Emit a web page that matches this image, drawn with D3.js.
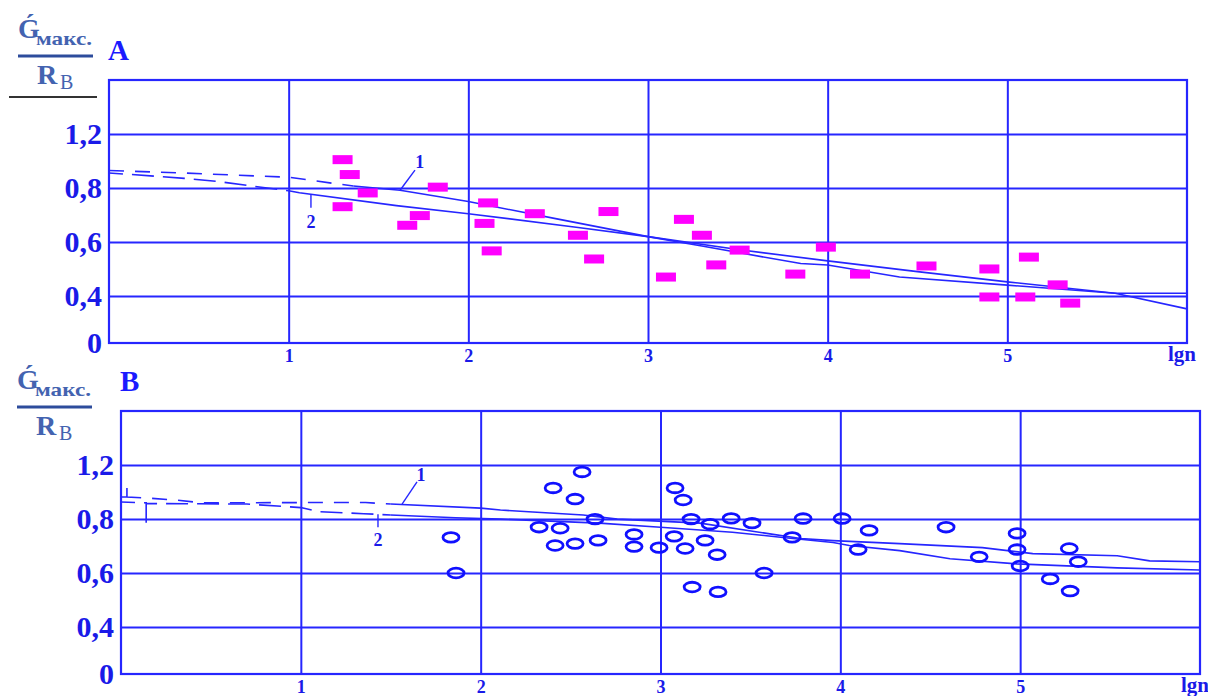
<!DOCTYPE html>
<html>
<head>
<meta charset="utf-8">
<script src="https://cdn.jsdelivr.net/npm/d3@7"></script>
<style>
  body { margin: 0; background: #fff; }
  text { font-family: "Liberation Serif", "DejaVu Serif", serif; }
</style>
</head>
<body>
<svg id="chart" width="1208" height="696"></svg>
<script>
// axis ticks
const xTicks = [1, 2, 3, 4, 5];
const yTicks = [0, 0.4, 0.6, 0.8, 1.2];
const yTickLabels = ["0", "0,4", "0,6", "0,8", "1,2"];
const yStops = [0, 0.4, 0.6, 0.8, 1.2, 1.6];

// panel A : measured points (lgn, G/R)
const pointsA = [
  [1.30, 1.01], [1.34, 0.90], [1.44, 0.782], [1.30, 0.731], [1.66, 0.662],
  [1.73, 0.698], [1.83, 0.807], [2.11, 0.745], [2.09, 0.669], [2.13, 0.567],
  [2.37, 0.705], [2.61, 0.625], [2.70, 0.537], [2.78, 0.713], [3.10, 0.470],
  [3.20, 0.684], [3.30, 0.625], [3.38, 0.515], [3.51, 0.570], [3.82, 0.481],
  [3.99, 0.581], [4.18, 0.481], [4.55, 0.511], [4.90, 0.500], [4.90, 0.391],
  [5.12, 0.544], [5.10, 0.391], [5.28, 0.441], [5.35, 0.339]
];
// panel A : curves 1 and 2
const curveA1 = [
  [0, 0.93], [0.4, 0.912], [1.0, 0.88], [1.36, 0.815], [1.62, 0.792],
  [2.0, 0.75], [2.5, 0.685], [3.0, 0.62], [3.5, 0.572], [4.0, 0.53],
  [4.5, 0.49], [5.0, 0.452], [5.6, 0.41], [6.0, 0.29]
];
const curveA2 = [
  [0, 0.912], [0.42, 0.872], [0.6, 0.85], [0.77, 0.82], [1.0, 0.79],
  [1.06, 0.783], [1.6, 0.735], [2.0, 0.705], [2.6, 0.655], [3.0, 0.62],
  [3.3, 0.585], [3.85, 0.52], [4.0, 0.515], [4.4, 0.47], [5.0, 0.44],
  [5.6, 0.41], [6.0, 0.41]
];
const dashEndA = [1.36, 1.0];

// panel B : measured points
const pointsB = [
  [1.835, 0.732], [1.863, 0.600], [2.564, 1.148], [2.403, 1.030], [2.525, 0.948],
  [2.636, 0.800], [2.325, 0.770], [2.442, 0.766], [2.414, 0.702], [2.525, 0.709],
  [2.653, 0.721], [2.853, 0.743], [2.853, 0.698], [2.992, 0.694], [3.081, 1.030],
  [3.126, 0.941], [3.170, 0.800], [3.076, 0.736], [3.137, 0.691], [3.276, 0.781],
  [3.248, 0.721], [3.315, 0.668], [3.393, 0.805], [3.509, 0.785], [3.176, 0.548],
  [3.320, 0.530], [3.576, 0.600], [3.732, 0.732], [3.793, 0.804], [4.010, 0.804],
  [4.160, 0.758], [4.099, 0.687], [4.588, 0.770], [4.772, 0.660], [4.983, 0.747],
  [4.983, 0.687], [5.000, 0.626], [5.167, 0.578], [5.273, 0.691], [5.323, 0.642],
  [5.278, 0.533]
];
// panel B : curves 1 and 2
const curveB1 = [
  [0, 0.963], [0.033, 0.963], [0.033, 1.04], [0.033, 0.963], [0.15, 0.955],
  [0.3, 0.941], [0.45, 0.92], [1.0, 0.922], [1.36, 0.922], [1.5, 0.911],
  [2.0, 0.881], [2.11, 0.867], [2.29, 0.852], [2.57, 0.83], [2.76, 0.80],
  [3.22, 0.785], [3.59, 0.747], [3.78, 0.728], [3.96, 0.72], [4.33, 0.709],
  [4.79, 0.694], [5.07, 0.672], [5.54, 0.664], [5.72, 0.645], [6.0, 0.642]
];
const curveB2 = [
  [0, 0.926], [0.14, 0.92], [0.14, 0.785], [0.14, 0.915], [0.7, 0.911],
  [1.0, 0.885], [1.1, 0.855], [1.35, 0.84], [1.5, 0.83], [1.86, 0.81],
  [2.11, 0.80], [2.66, 0.785], [3.0, 0.77], [3.4, 0.751], [3.68, 0.732],
  [3.96, 0.713], [4.05, 0.702], [4.33, 0.683], [4.61, 0.653], [4.98, 0.634],
  [5.54, 0.619], [6.0, 0.611]
];
const dashEndB = [1.5, 1.5];

// curve labels: text point and leader (lgn, G/R)
const notesA = [
  { t: "1", tx: 1.73, ty: 0.995, x1: 1.62, y1: 0.792, x2: 1.703, y2: 0.933 },
  { t: "2", tx: 1.124, ty: 0.676, x1: 1.124, y1: 0.778, x2: 1.124, y2: 0.727 }
];
const notesB = [
  { t: "1", tx: 1.668, ty: 1.126, x1: 1.563, y1: 0.911, x2: 1.646, y2: 1.074 },
  { t: "2", tx: 1.429, ty: 0.721, x1: 1.429, y1: 0.835, x2: 1.429, y2: 0.770 }
];

const blue = "#2626ff";
const textBlue = "#1a1ae8";
const titleBlue = "#4363b0";

let svg = d3.select("#chart");
svg.append("rect").attr("width", 1208).attr("height", 696).attr("fill", "#fff");

function drawPanel(p) {
  let g = svg.append("g").attr("transform", `translate(${p.left}, ${p.top})`);

  let xScale = d3.scaleLinear().domain([0, 6]).range([0, p.width]);
  // the printed grid is not evenly spaced, so a piecewise scale
  let yScale = d3.scaleLinear()
    .domain(yStops)
    .range([0, 0.179, 0.384, 0.589, 0.795, 1].map(f => p.height - f * p.height));

  // grid
  g.append("g")
    .call(d3.axisLeft(yScale).tickValues(yTicks.filter(v => v > 0)).tickSize(-p.width).tickFormat(""))
    .call(a => a.select(".domain").remove())
    .selectAll("line").attr("stroke", blue).attr("stroke-width", 2);
  g.append("g")
    .attr("transform", `translate(0, ${p.height})`)
    .call(d3.axisBottom(xScale).tickValues(xTicks).tickSize(-p.height).tickFormat(""))
    .call(a => a.select(".domain").remove())
    .selectAll("line").attr("stroke", blue).attr("stroke-width", 2);

  g.append("rect")
    .attr("width", p.width).attr("height", p.height)
    .attr("fill", "none").attr("stroke", blue).attr("stroke-width", 2.2);

  // y labels
  let yAx = g.append("g")
    .call(d3.axisLeft(yScale).tickValues(yTicks).tickSize(0).tickPadding(7)
      .tickFormat((d, i) => yTickLabels[i]));
  yAx.select(".domain").remove();
  yAx.selectAll("text")
    .attr("fill", textBlue).style("font-size", "30px").style("font-weight", "bold")
    .style("font-family", "'Liberation Serif', serif");

  // x labels
  let xAx = g.append("g")
    .attr("transform", `translate(0, ${p.height})`)
    .call(d3.axisBottom(xScale).tickValues(xTicks).tickSize(0).tickPadding(6)
      .tickFormat(d3.format("d")));
  xAx.select(".domain").remove();
  xAx.selectAll("text")
    .attr("fill", textBlue).style("font-size", "18px").style("font-weight", "bold")
    .style("font-family", "'Liberation Serif', serif");

  g.append("text")
    .attr("x", xScale(6) - 5).attr("y", p.height + 18)
    .attr("text-anchor", "middle")
    .attr("fill", textBlue).style("font-size", "21px").style("font-weight", "bold")
    .text("lgn");

  // curves
  let line = d3.line().x(d => xScale(d[0])).y(d => yScale(d[1]));
  p.curves.forEach(function (c, i) {
    let split = p.dashEnd[i];
    g.append("path")
      .attr("d", line(c.filter(d => d[0] <= split)))
      .attr("fill", "none").attr("stroke", blue).attr("stroke-width", 1.6)
      .attr("stroke-dasharray", i ? "22 9" : "15 11")
      .attr("stroke-dashoffset", i ? 8 : 0);
    g.append("path")
      .attr("d", line(c.filter(d => d[0] >= split)))
      .attr("fill", "none").attr("stroke", blue).attr("stroke-width", 1.6);
  });

  // curve labels
  p.notes.forEach(function (n) {
    g.append("line")
      .attr("x1", xScale(n.x1)).attr("y1", yScale(n.y1))
      .attr("x2", xScale(n.x2)).attr("y2", yScale(n.y2))
      .attr("stroke", blue).attr("stroke-width", 1.4);
    g.append("text")
      .attr("x", xScale(n.tx)).attr("y", yScale(n.ty))
      .attr("text-anchor", "middle").attr("dominant-baseline", "central")
      .attr("fill", textBlue).style("font-size", "18px").style("font-weight", "bold")
      .text(n.t);
  });

  // points
  if (p.marker === "rect") {
    g.selectAll("rect.pt").data(p.points).enter().append("rect")
      .attr("class", "pt")
      .attr("x", d => xScale(d[0]) - 10)
      .attr("y", d => yScale(d[1]) - 4.5)
      .attr("width", 20).attr("height", 9)
      .attr("fill", "#ff00ff");
  } else {
    g.selectAll("ellipse").data(p.points).enter().append("ellipse")
      .attr("cx", d => xScale(d[0]))
      .attr("cy", d => yScale(d[1]))
      .attr("rx", 8).attr("ry", 4.8)
      .attr("fill", "none").attr("stroke", "#1010ff").attr("stroke-width", 2.8);
  }

  // panel letter
  svg.append("text")
    .attr("x", p.left - 1).attr("y", p.top - 20)
    .attr("fill", "#1a1aff").style("font-size", "29px").style("font-weight", "bold")
    .text(p.letter);

  // ratio title  G'max / R_B
  let t = svg.append("g").attr("transform", `translate(${p.tx}, ${p.ty})`);
  t.append("text").attr("x", 0).attr("y", 0)
    .attr("fill", titleBlue).style("font-size", "28px").style("font-weight", "bold")
    .text("Ǵ");
  t.append("text").attr("x", 18).attr("y", 7)
    .attr("fill", titleBlue).style("font-size", "19px").style("font-weight", "bold")
    .attr("textLength", 56).attr("lengthAdjust", "spacingAndGlyphs")
    .text("макс.");
  t.append("line").attr("x1", 0).attr("x2", 75).attr("y1", 18).attr("y2", 18)
    .attr("stroke", "#2d4c9c").attr("stroke-width", 3);
  t.append("text").attr("x", 19).attr("y", 46)
    .attr("fill", titleBlue).style("font-size", "28px").style("font-weight", "bold")
    .text("R");
  t.append("text").attr("x", 42).attr("y", 51)
    .attr("fill", titleBlue).style("font-size", "20px")
    .text("В");
  if (p.underline) {
    t.append("line").attr("x1", -9).attr("x2", 79).attr("y1", 59).attr("y2", 59)
      .attr("stroke", "#333").attr("stroke-width", 1.8);
  }
}

drawPanel({
  left: 109, top: 80, width: 1078, height: 263,
  points: pointsA, marker: "rect",
  curves: [curveA1, curveA2], dashEnd: dashEndA, notes: notesA,
  letter: "A", tx: 18, ty: 38, underline: true
});

drawPanel({
  left: 121, top: 411, width: 1079, height: 263,
  points: pointsB, marker: "ellipse",
  curves: [curveB1, curveB2], dashEnd: dashEndB, notes: notesB,
  letter: "B", tx: 17, ty: 389, underline: false
});
</script>
</body>
</html>
